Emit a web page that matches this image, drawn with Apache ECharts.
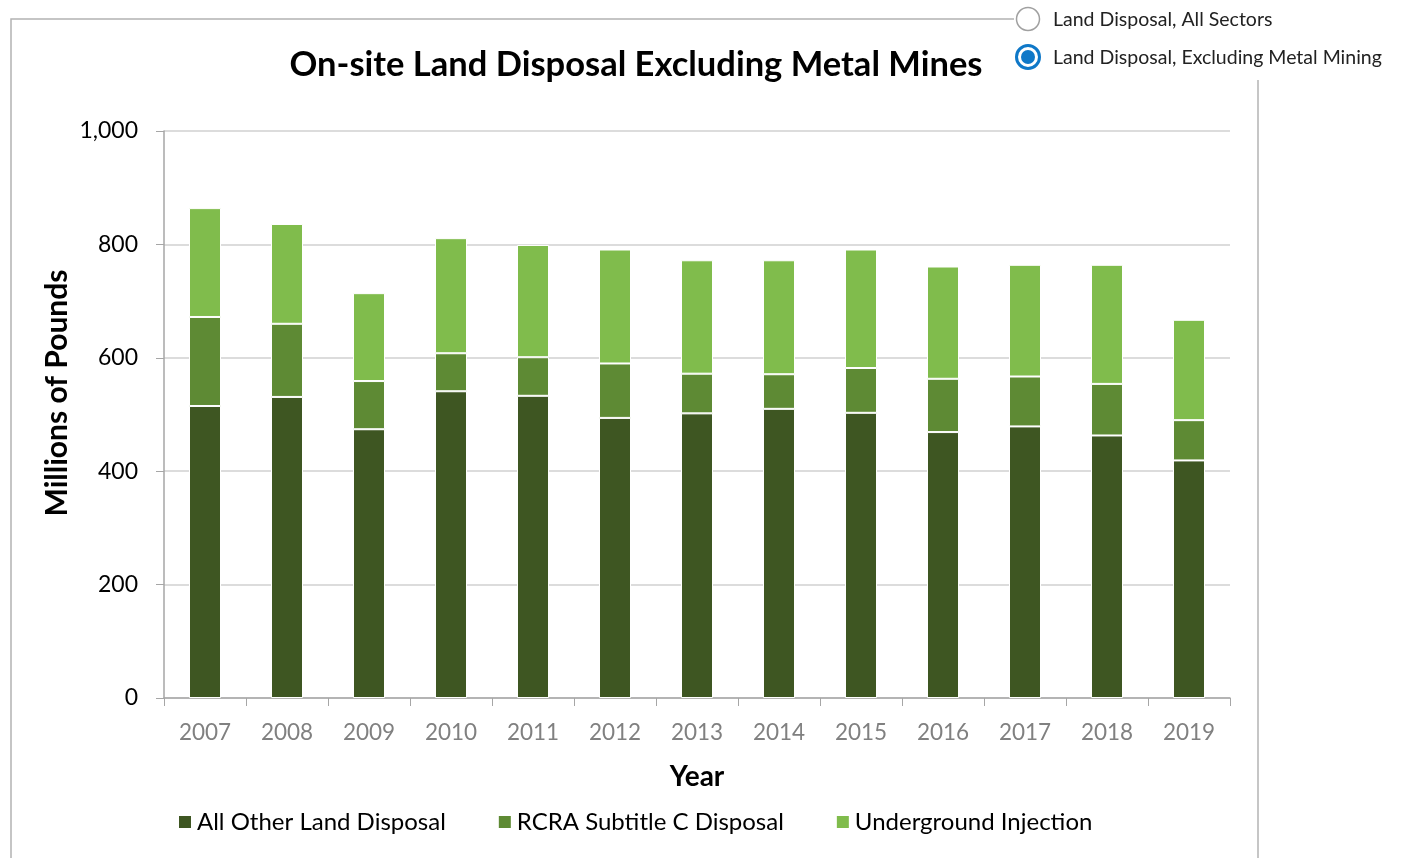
<!DOCTYPE html>
<html><head><meta charset="utf-8">
<script src="https://cdn.jsdelivr.net/npm/echarts@6/dist/echarts.min.js"></script>
<style>html,body{margin:0;padding:0;background:#fff}#c{width:1402px;height:858px}</style>
</head><body><div id="c"></div>
<script>
const years = ['2007','2008','2009','2010','2011','2012','2013','2014','2015','2016','2017','2018','2019'];
const allOther = [515,531,474,541,533,494,502,510,503,469,479,463,419];
const rcra = [157,129,85,67,68,96,70,61,79,94,88,91,71];
const underground = [192,176,155,203,198,201,200,201,209,198,197,210,177];
const seriesNames = ['All Other Land Disposal','RCRA Subtitle C Disposal','Underground Injection'];
const colors = ['#3E5622','#5E8A34','#80BC4C'];
const radioLabels = ['Land Disposal, All Sectors','Land Disposal, Excluding Metal Mining'];
const FONT = 'Lato, "Open Sans", sans-serif';

const chart = echarts.init(document.getElementById('c'));
const mk = (name, data, i) => ({
  name, type:'bar', stack:'t', data, barWidth:32,
  itemStyle:{color:colors[i], borderColor:'#fff', borderWidth:1},
  emphasis:{disabled:true}
});
chart.setOption({
  animation:false,
  textStyle:{fontFamily:FONT},
  title:{text:'On-site Land Disposal Excluding Metal Mines', left:631, top:42, textAlign:'center',
    textStyle:{fontSize:34.5, fontWeight:'bold', color:'#000', fontFamily:FONT}},
  legend:{top:805, left:172, itemWidth:14, itemHeight:14, itemGap:51, icon:'rect',
    textStyle:{fontSize:24, color:'#000', fontFamily:FONT}, data:seriesNames},
  grid:{left:164, right:172, top:131, bottom:160},
  xAxis:{type:'category', data:years, name:'Year', nameLocation:'middle', nameGap:65,
    nameTextStyle:{fontSize:28, fontWeight:'bold', color:'#000', fontFamily:FONT},
    axisLine:{lineStyle:{color:'#a6a6a6', width:1.5}},
    axisTick:{show:true, length:8, alignWithLabel:false, lineStyle:{color:'#a6a6a6'}},
    axisLabel:{fontSize:22.5, color:'#808080', margin:23, fontFamily:FONT}},
  yAxis:{type:'value', min:0, max:1000, interval:200,
    axisLine:{show:true, lineStyle:{color:'#a6a6a6', width:1.5}},
    axisTick:{show:true, length:8, lineStyle:{color:'#a6a6a6'}},
    splitLine:{lineStyle:{color:'#d0d0d0', width:1.5}},
    axisLabel:{fontSize:23, color:'#000', margin:26, fontFamily:FONT,
      formatter:v=>v.toLocaleString('en-US')}},
  series:[mk(seriesNames[0],allOther,0), mk(seriesNames[1],rcra,1), mk(seriesNames[2],underground,2)],
  graphic:[
    {type:'polyline', shape:{points:[[11,858],[11,19],[1014,19]]}, style:{stroke:'#b3b3b3', lineWidth:1.5, fill:null}},
    {type:'line', shape:{x1:1258,y1:80,x2:1258,y2:858}, style:{stroke:'#b3b3b3', lineWidth:1.5}},
    {type:'text', x:57, y:393, rotation:Math.PI/2,
      style:{text:'Millions of Pounds', fontSize:30, fontWeight:'bold', fill:'#000', fontFamily:FONT, align:'center', verticalAlign:'middle'}},
    {type:'circle', shape:{cx:1028, cy:19, r:11.5}, style:{fill:'#fff', stroke:'#a0a0a0', lineWidth:1.5}},
    {type:'text', x:1053, y:20, style:{text:radioLabels[0], fontSize:19.5, fill:'#222', fontFamily:FONT, verticalAlign:'middle'}},
    {type:'circle', shape:{cx:1028, cy:57, r:11.5}, style:{fill:'#fff', stroke:'#0F78C8', lineWidth:3}},
    {type:'circle', shape:{cx:1028, cy:57, r:7}, style:{fill:'#0F78C8'}},
    {type:'text', x:1053, y:58, style:{text:radioLabels[1], fontSize:19.5, fill:'#222', fontFamily:FONT, verticalAlign:'middle'}}
  ]
});
</script></body></html>
